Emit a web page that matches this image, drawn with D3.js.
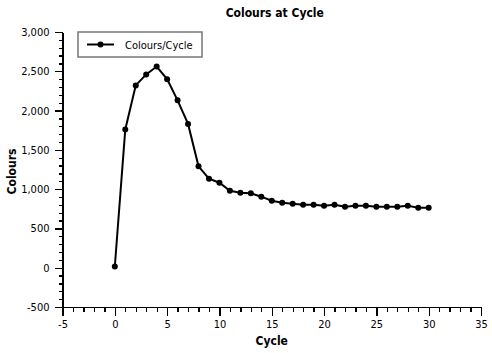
<!DOCTYPE html>
<html>
<head>
<meta charset="utf-8">
<script src="https://cdn.jsdelivr.net/npm/d3@7"></script>
<style>
  body { margin: 0; background: #fff; }
  svg text { font-family: Tahoma, 'DejaVu Sans Condensed', 'Liberation Sans', sans-serif; fill: #000; }
  .ejes path, .ejes line { stroke: #000; stroke-width: 1.3; shape-rendering: crispEdges; }
  .ejes text { font-size: 11px; }
</style>
</head>
<body>
<div id="graf"></div>
<script>
// datos
const ciclos = d3.range(0, 31)
const colores = [15, 1760, 2320, 2460, 2560, 2400, 2130, 1830, 1290, 1133, 1082,
  980, 955, 947, 904, 853, 827, 815, 802, 800, 789, 802, 776, 789, 789, 776,
  776, 776, 789, 764, 764]
const xTicks = [-5, 0, 5, 10, 15, 20, 25, 30, 35]
const yTicks = [-500, 0, 500, 1000, 1500, 2000, 2500, 3000]

const anchoTotal = 492
const altoTotal = 353

const svg = d3.select('#graf')
  .append('svg')
  .attr('width', anchoTotal)
  .attr('height', altoTotal)

const margin = { top: 32, bottom: 46, left: 62.5, right: 11 }
const ancho = anchoTotal - margin.left - margin.right
const alto = altoTotal - margin.top - margin.bottom

const g = svg.append('g')
  .attr('transform', `translate(${margin.left}, ${margin.top})`)

const x = d3.scaleLinear().domain([-5, 35]).range([0, ancho])
const y = d3.scaleLinear().domain([-500, 3000]).range([alto, 0])

// guion normal en vez del signo menos unicode
const fmtX = d => String(d)
const fmtY = d => d3.format(',')(d).replace('\u2212', '-')

// ticks menores
g.append('g').attr('class', 'ejes')
  .attr('transform', `translate(0, ${alto})`)
  .call(d3.axisBottom(x).tickValues(d3.range(-5, 36, 1)).tickSize(5).tickFormat(''))
  .select('.domain').remove()
g.append('g').attr('class', 'ejes')
  .call(d3.axisLeft(y).tickValues(d3.range(-500, 3001, 100)).tickSize(4).tickFormat(''))
  .select('.domain').remove()

// ejes principales
g.append('g').attr('class', 'ejes')
  .attr('transform', `translate(0, ${alto})`)
  .call(d3.axisBottom(x).tickValues(xTicks).tickSize(9).tickSizeOuter(0).tickPadding(4)
    .tickFormat(fmtX))
g.append('g').attr('class', 'ejes')
  .call(d3.axisLeft(y).tickValues(yTicks).tickSize(8).tickSizeOuter(0).tickPadding(5)
    .tickFormat(fmtY))

const linea = d3.line()
  .x((d, i) => x(ciclos[i]))
  .y(d => y(d))

g.append('path')
  .datum(colores)
  .attr('d', linea)
  .attr('fill', 'none')
  .attr('stroke', '#000')
  .attr('stroke-width', 2)

g.selectAll('circle.punto')
  .data(colores)
  .enter()
  .append('circle')
  .attr('class', 'punto')
  .attr('cx', (d, i) => x(ciclos[i]))
  .attr('cy', d => y(d))
  .attr('r', 3)
  .attr('fill', '#000')

// titulos
svg.append('text')
  .attr('x', margin.left + ancho / 2 + 3)
  .attr('y', 17)
  .attr('text-anchor', 'middle')
  .attr('font-size', 12)
  .attr('font-weight', 'bold')
  .text('Colours at Cycle')

svg.append('text')
  .attr('x', margin.left + ancho / 2)
  .attr('y', 345)
  .attr('text-anchor', 'middle')
  .attr('font-size', 12)
  .attr('font-weight', 'bold')
  .text('Cycle')

svg.append('text')
  .attr('transform', `translate(16, ${margin.top + alto / 2 + 2}) rotate(-90)`)
  .attr('text-anchor', 'middle')
  .attr('font-size', 12)
  .attr('font-weight', 'bold')
  .text('Colours')

// leyenda
const leyenda = svg.append('g').attr('transform', 'translate(78, 32)')
leyenda.append('rect')
  .attr('width', 124)
  .attr('height', 25)
  .attr('fill', '#fff')
  .attr('stroke', '#777')
  .attr('stroke-width', 1.5)
leyenda.append('line')
  .attr('x1', 9).attr('x2', 36).attr('y1', 12.5).attr('y2', 12.5)
  .attr('stroke', '#000').attr('stroke-width', 2)
leyenda.append('circle')
  .attr('cx', 22.5).attr('cy', 12.5).attr('r', 3).attr('fill', '#000')
leyenda.append('text')
  .attr('x', 47)
  .attr('y', 16.5)
  .attr('font-size', 11)
  .text('Colours/Cycle')
</script>
</body>
</html>
